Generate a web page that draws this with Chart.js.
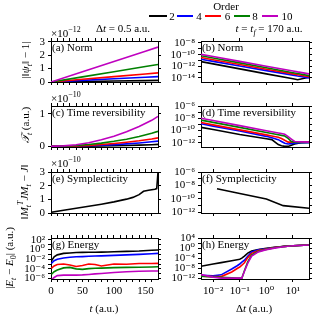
<!DOCTYPE html>
<html><head><meta charset="utf-8">
<script src="https://cdn.jsdelivr.net/npm/chart.js@4.4.0/dist/chart.umd.min.js"></script>
<style>
html,body{margin:0;padding:0;background:#fff;}
#fig{position:relative;width:315px;height:315px;overflow:hidden;font-family:'Liberation Serif','DejaVu Serif',serif;color:#000;background:#fff;}
canvas{position:absolute;}
.t{position:absolute;white-space:nowrap;font-size:11px;line-height:1;}
.c{transform:translate(-50%,-50%);}
.l{transform:translate(0,-50%);}
.rot{transform:translate(-50%,-50%) rotate(-90deg);}
.ln{position:absolute;height:2px;}
sup,sub{font-size:72%;line-height:0;}
</style></head><body>
<div id="fig">
<canvas id="ca"></canvas><canvas id="cb"></canvas>
<canvas id="cc"></canvas><canvas id="cd"></canvas>
<canvas id="ce"></canvas><canvas id="cf"></canvas>
<canvas id="cg"></canvas><canvas id="ch"></canvas>

<div class="t c" style="left:226px;top:6px;">Order</div>
<div class="ln" style="left:149px;top:15px;width:18px;background:#000"></div><div class="t c" style="left:172px;top:16px;">2</div>
<div class="ln" style="left:177px;top:15px;width:16px;background:#0000ff"></div><div class="t c" style="left:199px;top:16px;">4</div>
<div class="ln" style="left:205px;top:15px;width:16px;background:#ff0000"></div><div class="t c" style="left:227.5px;top:16px;">6</div>
<div class="ln" style="left:234px;top:15px;width:16px;background:#008000"></div><div class="t c" style="left:255px;top:16px;">8</div>
<div class="ln" style="left:262px;top:15px;width:16px;background:#bf00bf"></div><div class="t c" style="left:287px;top:16px;">10</div>

<div class="t c" style="left:123px;top:28px;">Δ<i>t</i> = 0.5 a.u.</div>
<div class="t c" style="left:269px;top:28px;"><i>t</i> = <i>t</i><sub><i>f</i></sub> = 170 a.u.</div>
<div class="t l" style="left:51px;top:33px;">×10<sup>−12</sup></div>
<div class="t l" style="left:51px;top:98px;">×10<sup>−10</sup></div>
<div class="t l" style="left:51px;top:163px;">×10<sup>−10</sup></div>

<div class="t rot" style="left:25px;top:60px;">|‖<i>ψ</i><sub><i>t</i></sub>‖ − 1|</div>
<div class="t rot" style="left:25px;top:125px;"><i>𝒯<sub>t</sub></i> (a.u.)</div>
<div class="t rot" style="left:24px;top:192px;">‖<i>M</i><sub><i>t</i></sub><sup><i>T</i></sup><i>JM</i><sub><i>t</i></sub> − <i>J</i>‖</div>
<div class="t rot" style="left:9px;top:258px;">|<i>E</i><sub><i>t</i></sub> − <i>E</i><sub>0</sub>| (a.u.)</div>
<div class="t c" style="left:104px;top:308px;"><i>t</i> (a.u.)</div>
<div class="t c" style="left:254px;top:308px;">Δ<i>t</i> (a.u.)</div>

<div class="t" style="left:52px;top:42px;">(a) Norm</div>
<div class="t" style="left:202px;top:42px;">(b) Norm</div>
<div class="t" style="left:52px;top:107px;">(c) Time reversibility</div>
<div class="t" style="left:202px;top:107px;">(d) Time reversibility</div>
<div class="t" style="left:52px;top:173px;">(e) Symplecticity</div>
<div class="t" style="left:202px;top:173px;">(f) Symplecticity</div>
<div class="t" style="left:52px;top:239px;">(g) Energy</div>
<div class="t" style="left:202px;top:239px;">(h) Energy</div>
</div>
<script>
// ---------- data ----------
const ORDER_LABELS = ['2', '4', '6', '8', '10'];
const ORDER_COLORS = ['#000000', '#0000ff', '#ff0000', '#008000', '#bf00bf'];

// (a) norm error vs t  (units of 1e-12)
const tNorm = [0, 50, 100, 150, 170];
const normVsT = [
  [0, 0.035, 0.07, 0.105, 0.12],
  [0, 0.12, 0.24, 0.35, 0.40],
  [0, 0.20, 0.40, 0.60, 0.68],
  [0, 0.38, 0.76, 1.15, 1.30],
  [0, 0.76, 1.53, 2.29, 2.60]
];
// (b) norm error vs dt at t = 170
const dtNorm = [0.0035, 0.01, 0.1, 1, 10, 15, 40];
const normVsDt = [
  [6.3e-12, 2.6e-12, 3.6e-13, 5e-14, 7e-15, 5e-15, 1.3e-14],
  [1.6e-11, 7e-12, 1.1e-12, 1.8e-13, 3e-14, 2.1e-14, 1e-14],
  [3.2e-11, 1.35e-11, 2e-12, 3.2e-13, 5e-14, 3.6e-14, 1.6e-14],
  [6.3e-11, 2.6e-11, 3.8e-12, 5.5e-13, 8e-14, 5.6e-14, 2.5e-14],
  [1.1e-10, 4.8e-11, 7e-12, 1e-12, 1.6e-13, 1.1e-13, 5e-14]
];
// (c) time reversibility vs t (units of 1e-10)
const tRev = [0, 20, 40, 60, 80, 100, 120, 140, 160, 170];
const revVsT = [
  [0, 0.001, 0.003, 0.007, 0.012, 0.019, 0.028, 0.038, 0.05, 0.06],
  [0, 0.003, 0.009, 0.019, 0.034, 0.053, 0.077, 0.105, 0.14, 0.16],
  [0, 0.004, 0.014, 0.031, 0.055, 0.087, 0.125, 0.17, 0.225, 0.26],
  [0, 0.008, 0.025, 0.055, 0.1, 0.155, 0.22, 0.3, 0.4, 0.46],
  [0, 0.015, 0.05, 0.11, 0.2, 0.31, 0.45, 0.61, 0.8, 0.92]
];
// (d) time reversibility vs dt
const dtRev = [0.0035, 0.01, 0.1, 1, 1.6, 2.8, 3.7, 4.9, 6.6, 8.7, 11.5, 20, 40];
const revVsDt = [
  [3.2e-10, 1.4e-10, 2.2e-11, 4.5e-12, 3.2e-12, 5e-13, 3.2e-13, 2.5e-13, 2.5e-13, 4e-13, 6.3e-13, 1e-12, 1.26e-12],
  [1.26e-9, 5.2e-10, 8e-11, 1.1e-11, 6.3e-12, 3.2e-12, 1.6e-12, 8e-13, 6.3e-13, 7e-13, 8e-13, 1e-12, 1e-12],
  [2e-9, 8.3e-10, 1.26e-10, 1.9e-11, 1.26e-11, 8e-12, 5e-12, 2.5e-12, 1.26e-12, 1.26e-12, 1.26e-12, 1.26e-12, 1.26e-12],
  [5e-9, 2.1e-9, 3.2e-10, 4.7e-11, 3.2e-11, 2e-11, 1.6e-11, 1.26e-11, 5e-12, 1.6e-12, 1.26e-12, 1.1e-12, 1.1e-12],
  [1e-8, 4.2e-9, 6.3e-10, 9.3e-11, 6.3e-11, 4e-11, 3.2e-11, 2.5e-11, 1e-11, 4e-12, 1.6e-12, 1.4e-12, 1.26e-12]
];
// (e) symplecticity vs t (units of 1e-10)
const tSym = [0, 20, 40, 60, 80, 100, 120, 130, 140, 147, 155, 165, 168, 170];
const symVsT = [0.05, 0.2, 0.35, 0.5, 0.65, 0.82, 1.02, 1.15, 1.35, 1.6, 1.68, 1.75, 1.8, 3.0];
// (f) symplecticity vs dt
const dtSym = [0.014, 0.1, 1, 4.3, 40];
const symVsDt = [3.2e-9, 6.3e-10, 1e-10, 1e-11, 4e-12];
// (g) energy error vs t
const tEn = [0.5, 5, 10, 20, 30, 40, 50, 60, 70, 80, 90, 100, 120, 140, 160, 170];
const enVsT = [
  [4e-3, 3.2e-2, 8e-2, 0.16, 0.2, 0.24, 0.26, 0.28, 0.28, 0.3, 0.32, 0.35, 0.42, 0.5, 0.71, 0.83],
  [1.3e-3, 5e-3, 1e-2, 1.8e-2, 2.5e-2, 3.2e-2, 3.5e-2, 4e-2, 4.5e-2, 5e-2, 5.6e-2, 6.3e-2, 8e-2, 0.1, 0.14, 0.16],
  [1.3e-4, 4e-4, 8e-4, 1e-3, 6.3e-4, 3.2e-4, 5e-4, 1e-3, 8e-4, 4e-4, 6.3e-4, 1e-3, 9e-4, 1.3e-3, 1.3e-3, 1.4e-3],
  [7e-6, 2.5e-5, 5.6e-5, 1.6e-4, 2e-4, 1e-4, 8e-5, 1.1e-4, 1.3e-4, 1.4e-4, 1.6e-4, 1.8e-4, 2e-4, 2.2e-4, 2.5e-4, 2.8e-4],
  [5e-7, 1.6e-6, 4e-6, 5e-6, 5e-6, 5e-6, 5.6e-6, 7e-6, 9e-6, 1.1e-5, 1.4e-5, 1.8e-5, 2.5e-5, 3.2e-5, 3.5e-5, 3.5e-5]
];
// (h) energy error vs dt
const dtEn = [0.0035, 0.01, 0.02, 0.05, 0.08, 0.1, 0.12, 0.15, 0.2, 0.28, 0.5, 1, 2, 5, 10, 40];
const enVsDt = [
  [6.3e-8, 4.6e-7, 1.7e-6, 1e-5, 2.5e-5, 4e-5, 1e-4, 6.3e-4, 1e-2, 6.3e-2, 0.25, 0.8, 2, 5, 9, 16],
  [1.6e-11, 1e-11, 2.5e-11, 5e-9, 1e-7, 5e-7, 2.5e-6, 1.6e-5, 6.3e-4, 3.2e-2, 0.2, 0.5, 1.6, 5, 9, 16],
  [8e-12, 5e-12, 5e-12, 3.2e-10, 8e-9, 3.2e-8, 1.6e-7, 1.6e-6, 1.6e-4, 8e-3, 0.1, 0.4, 1.6, 5, 9, 16],
  [8e-12, 4e-12, 2.5e-12, 1.6e-12, 1.3e-12, 1.3e-12, 1.3e-12, 1e-9, 3.2e-6, 1.6e-3, 5e-2, 0.32, 1.3, 5, 9, 16],
  [3.2e-11, 3.2e-12, 1.3e-12, 1.3e-12, 1.3e-12, 1.3e-12, 1.3e-12, 6.3e-10, 1e-6, 6.3e-4, 3.2e-2, 0.25, 1, 4, 8, 16]
];
// ticks
const tTicks = [0, 10, 20, 30, 40, 50, 60, 70, 80, 90, 100, 110, 120, 130, 140, 150, 160];
const tTickLabels = [0, 50, 100, 150];
const dtTicks = [0.01, 0.1, 1, 10];
const linTicks3 = [0, 1, 2, 3];
const linTicks1 = [0, 1];

// ---------- helpers ----------
const FONT = {family: "'Liberation Serif', 'DejaVu Serif', serif", size: 11};
const SUP = {'-': '⁻', '0': '⁰', '1': '¹', '2': '²', '3': '³', '4': '⁴', '5': '⁵', '6': '⁶', '7': '⁷', '8': '⁸', '9': '⁹'};
const pow10 = e => '10' + String(e).split('').map(ch => SUP[ch]).join('');
const logFmt = labeled => v => { const e = Math.round(Math.log10(v)); return labeled.includes(e) ? pow10(e) : ''; };
const decades = (a, b, step) => { const r = []; for (let e = a; e <= b; e += step) r.push(Number('1e' + e)); return r; };

const PT = 12, PB = 10;
const COL = [{cl: 0, YW: 51, W: 107, PR: 8}, {cl: 162, YW: 39, W: 108, PR: 6}];
const ROW = [{T: 41, H: 41, XH: 4}, {T: 106, H: 41, XH: 4}, {T: 172, H: 41, XH: 4}, {T: 238, H: 41, XH: 16}];

function axis(pos, spec, size, showLabels) {
  return {
    type: spec.type, position: pos, min: spec.min, max: spec.max, bounds: 'data',
    border: {display: true, color: '#000', width: 1},
    grid: {display: true, drawOnChartArea: false, drawTicks: true, tickLength: 3, color: '#000', lineWidth: 1},
    ticks: {display: showLabels, autoSkip: false, maxRotation: 0, minRotation: 0, padding: 3,
            color: '#000', font: FONT, callback: v => spec.fmt(v)},
    afterBuildTicks: s => { s.ticks = spec.ticks.map(v => ({value: v})); },
    afterFit: s => { if (pos === 'left' || pos === 'right') s.width = size; else s.height = size; }
  };
}

function multiSeries(xs, rows) {
  return rows.map((row, i) => ({
    label: ORDER_LABELS[i],
    data: row.map((y, j) => ({x: xs[j], y: y})),
    borderColor: ORDER_COLORS[i], backgroundColor: ORDER_COLORS[i],
    borderWidth: 1.6, pointRadius: 0, tension: 0, fill: false, order: 4 - i
  }));
}
function singleSeries(xs, ys) {
  return [{label: 'sym', data: ys.map((y, j) => ({x: xs[j], y: y})), borderColor: '#000',
           backgroundColor: '#000', borderWidth: 1.6, pointRadius: 0, tension: 0, fill: false}];
}

function panel(id, col, row, xs, ys, showX, datasets) {
  const c = COL[col], r = ROW[row];
  const cv = document.getElementById(id);
  const w = c.YW + c.W + c.PR, h = PT + r.H + r.XH + PB;
  cv.width = w; cv.height = h;
  cv.style.left = c.cl + 'px'; cv.style.top = (r.T - PT) + 'px';
  cv.style.width = w + 'px'; cv.style.height = h + 'px';
  new Chart(cv, {
    type: 'line',
    data: {datasets: datasets},
    options: {
      responsive: false, animation: false, devicePixelRatio: 1, events: [],
      layout: {padding: {left: 0, top: PT, right: c.PR, bottom: PB}},
      plugins: {legend: {display: false}, tooltip: {enabled: false}, title: {display: false}},
      scales: {
        x: axis('bottom', xs, r.XH, showX),
        x2: axis('top', xs, 0, false),
        y: axis('left', ys, c.YW, true),
        y2: axis('right', ys, 0, false)
      }
    }
  });
}

const tAxis = {type: 'linear', min: 0, max: 170, ticks: tTicks, fmt: v => tTickLabels.includes(v) ? String(v) : ''};
const dtAxis = {type: 'logarithmic', min: 0.0035, max: 40, ticks: dtTicks, fmt: logFmt([-2, -1, 0, 1])};

panel('ca', 0, 0, tAxis, {type: 'linear', min: 0, max: 3.05, ticks: linTicks3, fmt: v => String(v)}, false,
      multiSeries(tNorm, normVsT));
panel('cb', 1, 0, dtAxis, {type: 'logarithmic', min: 2e-15, max: 2.2e-8, ticks: decades(-14, -8, 1), fmt: logFmt([-8, -10, -12, -14])}, false,
      multiSeries(dtNorm, normVsDt));
panel('cc', 0, 1, tAxis, {type: 'linear', min: -0.02, max: 1.24, ticks: linTicks1, fmt: v => String(v)}, false,
      multiSeries(tRev, revVsT));
panel('cd', 1, 1, dtAxis, {type: 'logarithmic', min: 2e-13, max: 1e-6, ticks: decades(-12, -6, 1), fmt: logFmt([-6, -8, -10, -12])}, false,
      multiSeries(dtRev, revVsDt));
panel('ce', 0, 2, tAxis, {type: 'linear', min: 0, max: 3.02, ticks: linTicks3, fmt: v => String(v)}, false,
      singleSeries(tSym, symVsT));
panel('cf', 1, 2, dtAxis, {type: 'logarithmic', min: 8e-13, max: 1e-6, ticks: decades(-12, -6, 1), fmt: logFmt([-6, -8, -10, -12])}, false,
      singleSeries(dtSym, symVsDt));
panel('cg', 0, 3, tAxis, {type: 'logarithmic', min: 7.9e-7, max: 250, ticks: decades(-6, 2, 1), fmt: logFmt([-6, -4, -2, 0, 2])}, true,
      multiSeries(tEn, enVsT));
panel('ch', 1, 3, dtAxis, {type: 'logarithmic', min: 5.6e-13, max: 1e4, ticks: decades(-12, 4, 2), fmt: logFmt([-12, -8, -4, 0, 4])}, true,
      multiSeries(dtEn, enVsDt));
</script>
</body></html>
